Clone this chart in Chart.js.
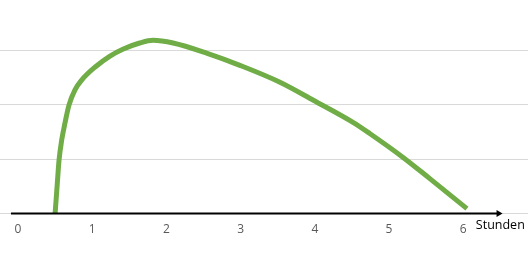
<!DOCTYPE html>
<html>
<head>
<meta charset="utf-8">
<script src="https://cdn.jsdelivr.net/npm/chart.js@4/dist/chart.umd.min.js"></script>
<style>
    html, body { margin: 0; padding: 0; background: #fff; }
    #wrap { width: 528px; height: 254px; }
</style>
</head>
<body>
<div id="wrap"><canvas id="curveChart"></canvas></div>
<script>
(function () {
    "use strict";

    // Stunden (x) and values
    var hours  = [0.50, 0.53, 0.553, 0.589, 0.633, 0.687, 0.768, 0.858, 1.04, 1.24, 1.42, 1.64, 1.82, 2.09, 2.55, 2.99, 3.53, 3.98, 4.52, 4.74, 5.19, 5.55, 6.05];
    var values = [0.00, 0.56, 0.98, 1.35, 1.66, 1.99, 2.27, 2.45, 2.69, 2.89, 3.02, 3.13, 3.18, 3.13, 2.94, 2.72, 2.41, 2.08, 1.67, 1.47, 1.03, 0.64, 0.09];
    var xTickLabels = [0, 1, 2, 3, 4, 5, 6];
    var axisTitle = "Stunden";

    var points = hours.map(function (h, i) {
        return { x: h, y: values[i] };
    });

    // black axis with arrow + "Stunden" text
    var axisArrow = {
        id: "axisArrow",
        afterDraw: function (chart) {
            var ctx = chart.ctx;
            var y0 = chart.scales.y.getPixelForValue(0);
            var xs = chart.scales.x;
            var left = xs.getPixelForValue(-0.095);
            var tip = xs.getPixelForValue(6.53);
            ctx.save();
            ctx.strokeStyle = "#000";
            ctx.fillStyle = "#000";
            ctx.lineWidth = 2;
            ctx.beginPath();
            ctx.moveTo(left, y0);
            ctx.lineTo(tip - 4, y0);
            ctx.stroke();
            ctx.beginPath();
            ctx.moveTo(tip, y0);
            ctx.lineTo(tip - 6, y0 - 3.5);
            ctx.lineTo(tip - 6, y0 + 3.5);
            ctx.closePath();
            ctx.fill();
            ctx.font = "12.5px 'Open Sans', sans-serif";
            ctx.textAlign = "left";
            ctx.textBaseline = "middle";
            ctx.fillText(axisTitle, xs.getPixelForValue(6.17), y0 + 12);
            ctx.restore();
        }
    };

    new Chart(document.getElementById("curveChart"), {
        type: "line",
        data: {
            datasets: [
                {
                    data: points,
                    borderColor: "#70AD47",
                    borderWidth: 5,
                    pointRadius: 0,
                    fill: false,
                    cubicInterpolationMode: "monotone",
                },
            ],
        },
        options: {
            responsive: true,
            maintainAspectRatio: false,
            animation: false,
            layout: { padding: 0 },
            plugins: {
                legend: { display: false },
                tooltip: { enabled: false },
            },
            scales: {
                x: {
                    type: "linear",
                    min: -0.2426,
                    max: 6.873,
                    afterBuildTicks: function (axis) {
                        axis.ticks = xTickLabels.map(function (v) {
                            return { value: v };
                        });
                    },
                    afterFit: function (axis) {
                        axis.height = 40.5;
                    },
                    grid: { display: false, drawTicks: false },
                    border: { display: false },
                    ticks: {
                        padding: 9,
                        color: "#595959",
                        font: { family: "'Open Sans', sans-serif", size: 12 },
                    },
                },
                y: {
                    min: 0,
                    max: 3.92,
                    afterFit: function (axis) {
                        axis.width = 0;
                    },
                    ticks: { display: false, stepSize: 1 },
                    border: { display: false },
                    grid: {
                        drawTicks: false,
                        lineWidth: 1,
                        color: function (c) {
                            return Number.isInteger(c.tick.value) ? "#D9D9D9" : "rgba(0,0,0,0)";
                        },
                    },
                },
            },
        },
        plugins: [axisArrow],
    });
})();
</script>
</body>
</html>
